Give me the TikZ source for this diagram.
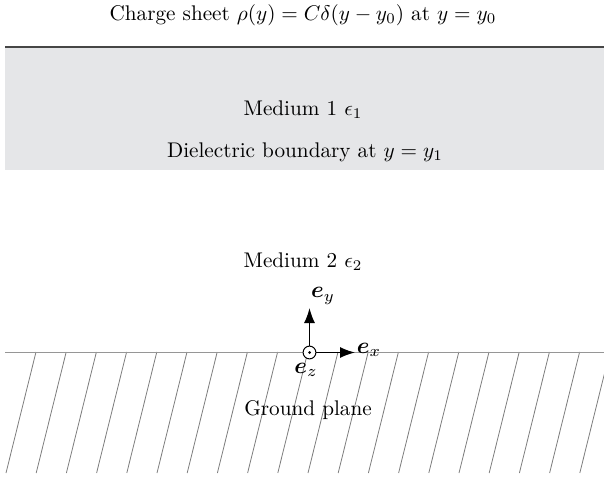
\documentclass[tikz,border=0pt]{standalone}
\usepackage{amsmath,bm}
\usetikzlibrary{arrows.meta}
\definecolor{mediumgray}{RGB}{229,230,232}
\definecolor{sheetline}{RGB}{70,70,70}
\definecolor{groundline}{RGB}{150,150,150}
\definecolor{hatchline}{RGB}{125,125,125}
\tikzset{
  lbl/.style={inner sep=0pt, scale=1.06, transform shape},
  axlbl/.style={inner sep=0pt, scale=1.15, transform shape},
  axis/.style={line width=0.7pt, -{Latex[length=7.5pt,width=5.5pt]}},
  hatch/.style={hatchline, line width=0.4pt},
}
\begin{document}
\begin{tikzpicture}[x=0.5pt,y=-0.5pt]
\useasboundingbox (0,0) rectangle (604,476);
\clip (0,0) rectangle (604,476);
% medium 1 region
\fill[mediumgray] (5,47) rectangle (604,170);
\draw[sheetline, line width=0.6pt] (5,47) -- (604,47);
% ground
\foreach \k in {0,...,19} {
  \draw[hatch] ({36+30.2*\k},352) -- ({6+30.2*\k},473);
}
\draw[groundline, line width=0.5pt] (5,352) -- (604,352);
% texts
\node[lbl] (title) at (303,15) {Charge sheet $\rho(y)=C\delta(y-y_0)$ at $y=y_0$};
\node[lbl] (m1) at (303,110) {Medium 1 $\epsilon_1$};
\node[lbl] (db) at (305,152) {Dielectric boundary at $y=y_1$};
\node[lbl] (m2) at (303,262) {Medium 2 $\epsilon_2$};
\node[lbl] (gp) at (308,410) {Ground plane};
% axes
\coordinate (o) at (309.5,352.5);
\coordinate (ytip) at (309.5,308);
\coordinate (xtip) at (355,352.5);
\draw[axis] (o) -- (ytip);
\draw[axis] (o) -- (xtip);
\draw[line width=0.5pt, fill=white] (o) circle (3.2pt);
\fill (o) circle (0.75pt);
\node[axlbl] (ey) at (323,296) {$\bm{e}_y$};
\node[axlbl] (ex) at (369,350) {$\bm{e}_x$};
\node[axlbl] (ez) at (306,370) {$\bm{e}_z$};
\end{tikzpicture}
\end{document}
